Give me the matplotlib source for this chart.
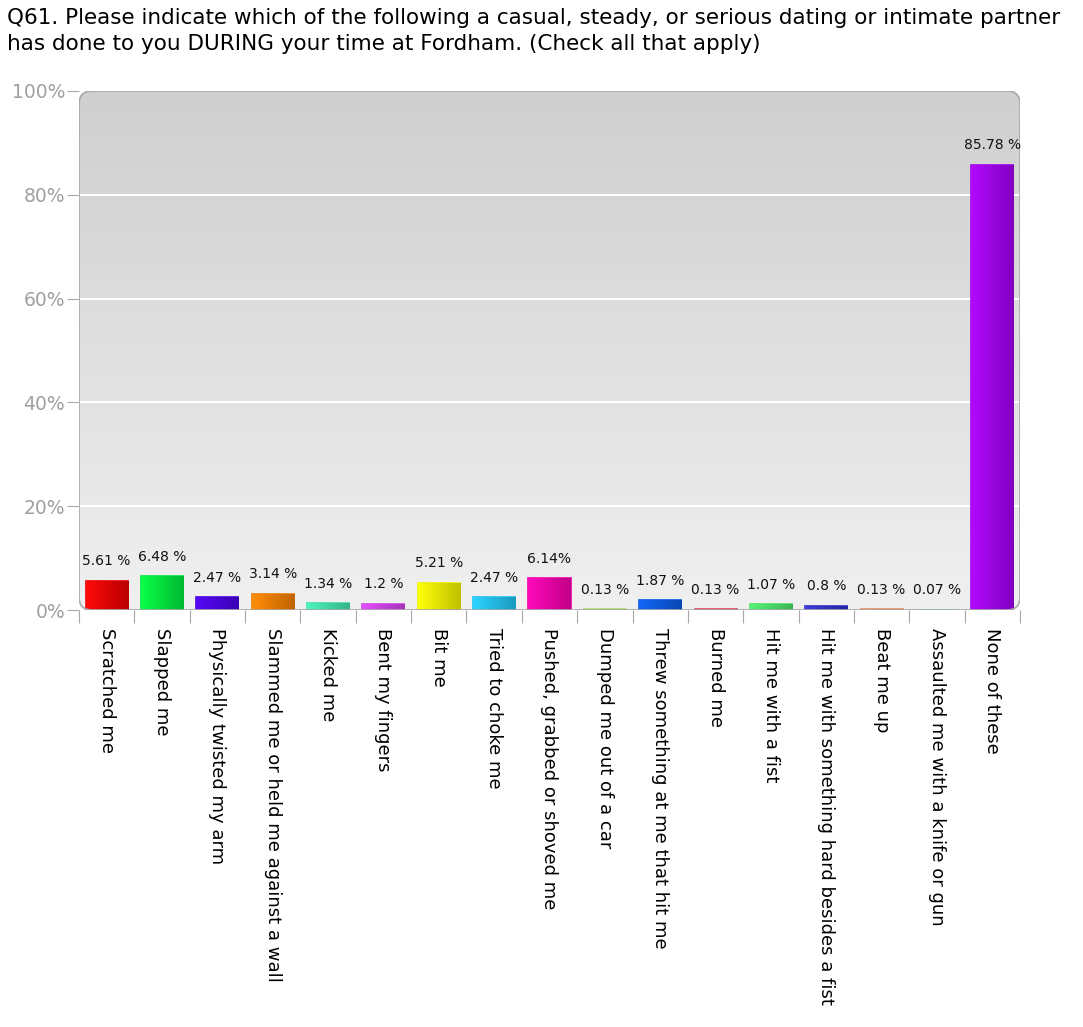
import numpy as np
import matplotlib
matplotlib.use("Agg")
import matplotlib.pyplot as plt
from matplotlib.patches import FancyBboxPatch
from matplotlib.colors import to_rgb

plt.rcParams.update({"font.family": ["DejaVu Sans"], "font.size": 10})

TITLE = ("Q61. Please indicate which of the following a casual, steady, or serious dating or intimate partner\n"
         "has done to you DURING your time at Fordham. (Check all that apply)")

categories = ["Scratched me", "Slapped me", "Physically twisted my arm",
              "Slammed me or held me against a wall", "Kicked me", "Bent my fingers",
              "Bit me", "Tried to choke me", "Pushed, grabbed or shoved me",
              "Dumped me out of a car", "Threw something at me that hit me", "Burned me",
              "Hit me with a fist", "Hit me with something hard besides a fist",
              "Beat me up", "Assaulted me with a knife or gun", "None of these"]
values = [5.61, 6.48, 2.47, 3.14, 1.34, 1.2, 5.21, 2.47, 6.14,
          0.13, 1.87, 0.13, 1.07, 0.8, 0.13, 0.07, 85.78]
value_labels = ["5.61 %", "6.48 %", "2.47 %", "3.14 %", "1.34 %", "1.2 %", "5.21 %", "2.47 %",
                "6.14%", "0.13 %", "1.87 %", "0.13 %", "1.07 %", "0.8 %", "0.13 %", "0.07 %", "85.78 %"]
colors = ["#e80000", "#00e83c", "#4800e0", "#f07c00", "#40e0a8", "#d040e8", "#f0f000",
          "#20c0f0", "#f000a8", "#a8e060", "#0858e0", "#e04858", "#48e068", "#3030c8",
          "#f08858", "#48e0a0", "#a000f0"]
yticks = [0, 20, 40, 60, 80, 100]

W, H = 1083, 1027
fig = plt.figure(figsize=(W / 100, H / 100), dpi=100)
fig.patch.set_facecolor("white")
ax = fig.add_axes([79 / W, (H - 610) / H, 941 / W, 519 / H])
ax.set_xlim(0, len(categories))
ax.set_ylim(0, 100)
ax.patch.set_visible(False)
for s in ax.spines.values():
    s.set_visible(False)

# rounded grey panel with vertical gradient (darker at top)
panel = FancyBboxPatch((0, 0), 1, 1, boxstyle="round,pad=0,rounding_size=0.014",
                       mutation_aspect=941 / 519, transform=ax.transAxes,
                       facecolor="none", edgecolor="#a8a8a8", lw=1.2, zorder=3)
ax.add_patch(panel)
grad = np.linspace(0, 1, 256).reshape(-1, 1)
top, bot = np.array(to_rgb("#cfcfcf")), np.array(to_rgb("#f0f0f0"))
img = top + (bot - top) * grad[:, :, None] * np.ones((1, 2, 1))
bg = ax.imshow(img, extent=[0, 1, 0, 1], origin="upper", transform=ax.transAxes,
               aspect="auto", zorder=0)
bg.set_clip_path(panel)

for t in yticks[1:-1]:
    ax.axhline(t, color="white", lw=1.5, zorder=1)

x = np.arange(len(categories)) + 0.5
bars = ax.bar(x, values, width=0.76, color=colors, zorder=2, edgecolor=colors, linewidth=1.2)
for b, c in zip(bars, colors):
    rgb = np.array(to_rgb(c))
    g = np.linspace(0, 1, 64)[None, :, None]
    light = np.clip(rgb * 1.05 + 0.04, 0, 1)
    dark = rgb * 0.8
    im = light + (dark - light) * g
    bx, by = b.get_x(), b.get_y()
    art = ax.imshow(im, extent=[bx, bx + b.get_width(), by, by + b.get_height()],
                    aspect="auto", zorder=2, interpolation="bilinear")
    art.set_clip_path(b)

for xi, v, lab in zip(x, values, value_labels):
    ax.annotate(lab, (xi, v), xytext=(0, 9), textcoords="offset points",
                ha="center", va="bottom", fontsize=10, color="#111111", zorder=4)

ax.set_yticks(yticks)
ax.set_yticklabels([f"{t}%" for t in yticks], color="#a0a0a0", fontsize=13.5)
ax.tick_params(axis="y", length=9, color="#a8a8a8", pad=1)
ax.set_xticks(np.arange(len(categories) + 1))
ax.set_xticklabels([])
ax.tick_params(axis="x", length=9, color="#a8a8a8", direction="out")
for xi, lab in zip(x, categories):
    ax.text(xi, -3.4, lab, rotation=270, ha="center", va="top", fontsize=13)

fig.text(7 / W, 1 - 8 / H, TITLE, ha="left", va="top", fontsize=15.5, linespacing=1.4)

fig.savefig("out.png", dpi=100)
